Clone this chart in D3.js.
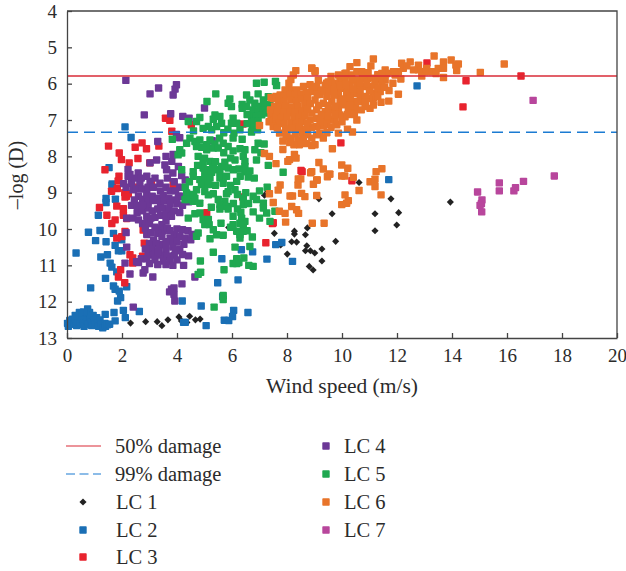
<!DOCTYPE html>
<html>
<head>
<meta charset="utf-8">
<style>
  html, body { margin: 0; padding: 0; background: #fff; }
  text { font-family: "Liberation Serif", serif; fill: #2b2b2b; }
</style>
<script src="https://cdn.jsdelivr.net/npm/d3@7"></script>
</head>
<body>
<div id="chart"></div>
<script>
// [wind speed, -log(D)]
const lc1 = [[7.18,9.07],[7.3,8.96],[9.16,9.17],[10.62,8.72],[9.64,9.58],[11.2,9.58],[11.78,9.17],[12.06,9.55],[11.99,9.89],[11.2,10.05],[13.94,9.26],[9.77,10.34],[8.74,9.97],[8.27,10.06],[8.27,10.14],[8.67,10.16],[7.54,10.12],[8.17,10.35],[8.35,10.36],[7.77,10.44],[8.72,10.46],[8.67,10.6],[8.85,10.6],[9.01,10.66],[9.27,10.55],[8.01,10.69],[9.27,10.88],[8.81,11.03],[8.95,11.13],[2.31,12.59],[2.86,12.55],[3.28,12.55],[3.45,12.66],[3.67,12.5],[4.07,12.42],[4.16,12.53],[4.36,12.57],[4.46,12.4],[4.67,12.5],[4.84,12.48],[5.88,9.96]]

const lc2 = [[0.02,12.6],[0.05,12.68],[0.1,12.52],[0.15,12.62],[0.2,12.48],[0.25,12.58],[0.3,12.5],[0.35,12.66],[0.4,12.42],[0.42,12.56],[0.48,12.62],[0.5,12.36],[0.55,12.48],[0.6,12.58],[0.62,12.68],[0.68,12.4],[0.72,12.52],[0.75,12.2],[0.78,12.62],[0.82,12.3],[0.85,12.44],[0.88,12.56],[0.9,12.66],[0.95,12.38],[1.0,12.5],[1.02,12.62],[1.08,12.44],[1.12,12.58],[1.15,12.68],[1.2,12.5],[1.25,12.62],[1.3,12.72],[1.38,12.6],[1.4,12.68],[1.39,12.35],[1.47,12.64],[1.55,12.62],[0.6,12.28],[0.45,12.3],[0.3,12.38],
  [1.64,8.8],[1.42,9.16],[1.42,9.27],[1.76,9.18],[1.14,9.62],[0.78,10.09],[1.2,10.04],[1.69,10.12],[1.04,10.32],[1.42,10.35],[1.75,10.45],[1.99,10.3],[1.87,10.6],[1.99,10.6],[0.33,10.66],[1.23,10.77],[1.47,10.71],[1.57,10.94],[1.63,11.05],[1.81,11.18],[1.4,11.36],[0.86,11.62],[1.69,11.57],[1.75,11.66],[1.9,11.71],[2.17,11.59],[1.95,11.89],[1.84,11.98],[2.05,12.24],[2.12,12.44],[2.63,12.27],[1.71,12.3],[1.75,12.53],[4.19,11.98],[4.88,12.12],[5.48,11.48],[5.63,10.82],[5.66,11.86],[6.22,11.4],[6.34,10.57],[6.75,10.63],[7.27,10.83],[7.59,10.43],[7.81,10.37],[8.2,10.89],[6.58,12.3],[6.06,12.24],[6.02,12.41],[5.72,12.51],[5.88,12.52],[5.06,12.66],[4.24,12.57],[4.3,12.57],[11.7,8.64],[12.73,6.06],[2.11,7.19],[2.33,7.48],[1.53,8.31],[1.64,8.76]]

const lc3 = [[3.58,6.95],[3.74,7.01],[3.81,7.31],[1.51,7.72],[2.48,7.75],[2.73,7.63],[2.89,7.79],[3.34,7.72],[1.9,7.91],[1.98,8.09],[2.26,8.18],[2.58,8.06],[1.38,8.37],[1.89,8.55],[1.86,8.68],[3.01,8.18],[1.83,8.89],[1.62,8.96],[2.1,9.0],[2.16,9.1],[2.53,8.85],[4.52,7.13],[6.4,7.11],[8.51,6.81],[8.51,8.39],[3.86,8.78],[3.07,8.73],[2.11,9.12],[2.23,9.03],[1.81,9.37],[2.05,9.44],[1.18,9.41],[1.45,9.62],[2.05,9.62],[1.75,9.75],[1.63,9.85],[2.17,9.71],[2.11,10.07],[1.81,10.25],[1.99,10.21],[2.77,10.03],[2.81,10.39],[2.29,10.71],[2.39,10.8],[2.39,10.94],[2.75,10.75],[1.95,11.12],[1.87,11.32],[2.1,11.48],[5.08,9.55],[6.39,9.12],[7.47,9.85],[7.23,10.38],[13.09,5.43],[14.51,5.92],[16.51,5.79],[14.4,6.64],[9.96,7.63],[10.36,8.67],[7.5,9.83],[8.55,8.42]]

const lc4 = [[2.14,5.91],[3.02,6.28],[3.33,6.12],[3.98,6.03],[3.93,6.15],[3.86,6.31],[2.81,6.86],[3.77,6.83],[4.21,6.9],[4.44,6.95],[5.0,6.67],[3.3,7.59],[3.98,7.4],[4.1,7.49],[5.28,7.57],[3.86,7.95],
  [3.02,8.18],[3.26,8.1],[3.56,8.24],[3.81,8.14],[3.6,8.0],[4.05,8.28],[3.85,8.46],[3.62,8.37],[4.17,8.53],[4.3,8.65],[2.59,8.46],[2.9,8.55],[3.2,8.6],[3.38,8.74],[3.02,8.69],[2.29,8.5],[2.35,8.74],[2.41,8.92],[2.15,8.85],[2.06,8.75],[2.65,8.72],[3.65,8.6],[3.9,8.7],[4.1,8.85],[3.4,8.95],[3.6,8.85],[3.75,8.95],[3.95,8.95],
  [2.6,9.1],[2.75,9.18],[2.9,9.05],[3.1,9.1],[3.3,9.15],[3.5,9.07],[3.7,9.15],[3.85,9.2],[4.05,9.1],[4.2,9.1],[4.42,9.25],[2.45,9.2],[2.95,9.25],[3.15,9.22],[3.4,9.28],[3.55,9.22],[3.75,9.3],[4.0,9.3],[4.2,9.35],
  [2.55,9.55],[2.75,9.5],[2.95,9.42],[3.1,9.5],[3.3,9.45],[3.5,9.42],[3.7,9.48],[3.9,9.5],[4.1,9.55],[3.2,9.68],[3.4,9.62],[3.6,9.6],[3.8,9.65],[2.17,9.7],[2.75,9.85],[3.0,9.85],[3.6,9.78],[3.45,9.88],
  [2.85,9.98],[3.35,10.0],[3.5,10.05],[3.65,9.98],[4.0,10.0],[4.2,10.02],[4.4,10.05],[4.55,10.15],[2.15,10.1],[3.3,10.12],[3.15,10.3],[3.45,10.2],[3.9,10.15],[4.1,10.2],[4.3,10.25],[4.5,10.3],[3.0,10.4],[3.25,10.4],[3.5,10.42],[3.8,10.32],[4.0,10.35],[4.25,10.42],
  [2.17,10.5],[3.1,10.55],[3.35,10.55],[3.6,10.6],[3.85,10.5],[4.1,10.55],[2.95,10.7],[3.15,10.72],[3.4,10.72],[3.65,10.75],[3.9,10.72],[4.42,10.74],[2.7,10.82],[2.9,10.82],[3.2,10.85],[3.5,10.88],[3.75,10.88],[4.0,10.85],[2.11,10.94],[2.6,10.92],[3.3,10.98],[3.6,10.98],[3.85,11.0],[4.24,11.0],[2.77,11.21],[2.83,11.12],[2.29,11.24],[3.12,11.32],[4.65,11.32],[4.18,11.51],[3.8,11.66],[3.89,11.62],[3.73,11.73],[3.89,11.8],[3.92,11.98],[2.41,12.15],
  [2.45,8.6],[2.7,8.6],[2.5,8.9],[2.75,8.9],[2.95,8.85],[3.15,8.85],[2.35,9.35],[2.55,9.35],[2.75,9.35],[2.4,9.7],[2.6,9.75],[2.9,9.65],[3.05,9.7],[2.9,10.15],[3.05,10.1],[2.85,10.55],[3.2,9.95],[3.75,10.05],[3.75,10.25],[3.6,10.35],[3.3,10.62],[3.6,10.45],[3.95,10.6],[4.2,10.7],[3.0,10.95],[2.22,8.36],[2.22,8.55],[2.53,10.9]]

const lc5 = [[6.89,5.99],[7.17,5.96],[7.58,5.94],[7.62,6.05],[5.41,6.28],[5.09,6.49],[5.92,6.42],[5.86,6.54],[5.98,6.63],[6.53,6.31],[6.95,6.28],[7.14,6.45],[7.32,6.36],[6.65,6.45],[6.37,6.57],[6.37,6.68],[6.53,6.63],[6.83,6.54],[7.01,6.63],[7.2,6.58],[7.38,6.58],[6.77,6.72],[6.95,6.77],[7.14,6.72],[6.71,6.9],[6.89,6.9],[7.08,6.86],[7.26,6.81],[6.74,7.04],[6.95,7.04],[6.74,7.18],[6.93,7.27],[6.71,7.33],
  [4.83,6.93],[4.71,7.04],[4.41,7.04],[5.38,6.86],[5.56,6.9],[5.32,6.98],[5.62,7.09],[5.44,7.18],[5.14,7.18],[4.95,7.23],[5.26,7.27],[6.04,6.95],[6.17,7.09],[5.98,7.09],[6.29,7.27],[6.07,7.36],[6.04,7.5],[6.37,7.53],[3.83,7.53],
  [4.47,7.5],[4.65,7.59],[4.83,7.55],[4.71,7.73],[4.35,7.64],[5.08,7.68],[5.38,7.66],[5.68,7.64],[5.86,7.73],[5.08,7.82],[5.32,7.77],[5.5,7.77],[6.04,7.85],[6.29,7.79],[6.47,7.82],[6.95,7.64],[7.17,7.66],[6.83,7.82],[4.1,7.82],[4.04,7.96],[4.17,7.91],
  [4.77,8.0],[5.0,8.05],[5.2,8.14],[4.95,8.14],[5.32,8.19],[4.95,8.32],[5.14,8.37],[5.5,8.37],[5.74,8.16],[5.62,8.28],[5.86,8.32],[6.11,8.1],[6.41,8.0],[6.47,8.14],[6.47,8.28],[6.53,8.42],[6.89,8.1],[6.05,8.37],[7.32,8.25],[7.86,8.44],[4.17,8.37],[4.59,8.42],
  [5.01,8.46],[5.26,8.44],[5.56,8.42],[4.59,8.55],[4.83,8.64],[5.01,8.64],[5.2,8.6],[5.56,8.6],[5.8,8.55],[6.17,8.69],[6.47,8.42],[6.59,8.57],[6.81,8.6],[4.89,8.78],[5.14,8.78],[5.68,8.74],[5.01,8.97],[5.32,9.03],[5.14,9.06],[5.86,8.97],[6.11,8.92],[5.8,9.03],[7.28,8.85],[4.35,9.01],[4.71,8.92],[4.47,9.1],[4.29,9.19],[4.59,9.24],[4.65,9.15],[4.83,9.29],[4.41,9.19],[6.41,9.15],[6.77,9.1],[6.89,9.19],[7.14,9.29],[7.14,9.42],[7.26,9.56],[7.56,9.51],[5.5,9.19],[5.74,9.24],[5.56,9.33],[5.8,9.38],[5.56,9.45],[5.86,9.45],[6.41,9.33],[6.77,9.53],[6.32,9.54],[4.65,9.58],[4.83,9.56],[4.41,9.7],[4.95,9.74],[5.14,9.74],[5.01,9.88],[5.17,9.88],[5.6,9.84],[6.04,9.65],[6.35,9.7],[6.47,9.79],[6.29,9.84],[6.04,9.88],[6.41,9.88],[7.38,9.79],[5.32,10.02],[5.44,10.16],[5.68,10.17],[6.17,10.06],[6.29,10.16],[6.41,10.06],[6.29,10.25],[5.2,10.27],[4.71,10.2],[4.77,10.11],[6.74,10.22],[6.11,10.5],[6.65,10.48],[5.32,10.64],[6.43,10.8],[6.17,10.82],[6.04,10.95],[6.17,10.95],[6.25,10.92],[6.61,11.0],[6.77,11.03],[4.85,10.88],[4.86,11.19],[4.77,11.25],[5.71,11.12],[5.68,11.83],[5.68,11.94],[5.35,12.15],
  [5.7,7.35],[5.55,7.5],[5.85,7.25],[6.55,7.1],[6.55,6.85],[5.2,7.55],[4.6,7.3],[4.9,7.75],[5.7,7.9],[5.95,8.05],[6.25,8.35],[6.3,8.55],[5.4,8.8],[5.3,8.3],[5.4,8.15],[4.75,8.25],[4.45,8.7],[4.3,8.85],[5.95,8.8],[6.2,9.05],[6.5,9.0],[6.05,9.3],[6.2,9.45],[6.6,9.3],[5.95,9.95],[6.55,10.05],[7.0,9.7],[7.0,8.95],[4.6,9.05],[5.25,9.4],[7.05,7.9],[6.65,8.4]]

const lc6 = [[8.32,5.64],[8.23,5.76],[8.14,5.89],[8.07,5.99],[8.9,5.57],[9.02,5.64],[9.14,5.91],[10.29,5.53],[10.54,5.42],[10.15,5.71],[9.93,5.94],[10.35,5.76],
  [11.14,5.32],[11.05,5.51],[13.35,5.24],[12.48,5.4],[12.17,5.44],[12.78,5.49],[13.08,5.58],[13.69,5.4],[13.97,5.35],[14.23,5.46],[14.14,5.49],[14.17,5.64],[13.69,5.58],[13.5,5.58],[13.26,5.67],[13.02,5.67],[12.78,5.62],[12.6,5.62],[12.23,5.58],[12.05,5.67],[11.87,5.67],[11.57,5.62],[11.63,5.72],[11.93,5.76],[12.36,5.51],[12.9,5.79],[13.42,5.72],[13.69,5.83],[15.03,5.69],[15.9,5.46],[12.14,5.87],[11.85,5.99],[11.71,6.19],[12.05,6.29],[11.7,6.48],[11.42,6.51],[11.14,6.59],[11.02,6.68],[10.84,6.63],[10.48,6.68],[10.23,6.72],[10.11,6.91],[10.54,7.0],[10.2,7.25],[10.38,7.33],[9.87,7.36],[9.65,7.79],[9.45,7.35],[9.32,7.5],[9.02,7.68],[8.9,7.7],
  [10.72,5.67],[10.54,5.67],[10.11,5.72],[9.87,5.76],[9.02,5.67],[8.9,5.58],[11.57,5.9],[11.39,5.9],[11.2,5.85],[10.96,5.85],[10.78,5.85],[10.54,5.9],[10.36,5.9],[10.11,5.9],[9.75,5.99],
  [11.45,6.04],[11.2,6.04],[11.02,6.08],[10.78,6.08],[10.54,6.08],[10.29,6.08],[10.05,6.13],[9.81,6.13],[9.57,6.04],[9.39,6.04],[11.39,6.22],[11.14,6.27],[10.66,6.22],[10.42,6.27],[10.17,6.27],[9.87,6.31],[9.57,6.22],[9.32,6.17],[9.08,6.17],[8.9,6.22],[11.14,6.4],[10.96,6.4],[10.66,6.36],[10.42,6.49],[10.23,6.45],[9.93,6.49],[9.63,6.49],[9.32,6.54],[9.02,6.45],[10.48,6.63],[9.87,6.68],[9.63,6.72],[9.39,6.77],[9.08,6.72],[8.9,6.81],[9.93,6.86],[9.75,7.0],[9.57,7.0],[9.32,7.0],[9.08,6.95],[8.84,7.0],[9.81,7.13],[9.32,7.16],[9.08,7.18],[8.9,7.2],[9.2,7.36],[9.08,7.41],[8.9,7.5],
  [8.11,6.17],[7.93,6.17],[7.75,6.31],[7.5,6.4],[8.35,6.17],[8.6,6.08],[8.84,6.03],[9.08,6.08],[9.44,5.99],[9.63,5.99],[7.42,6.38],[7.6,6.35],[7.42,6.9],[7.55,7.0],[7.0,7.15],[7.73,7.36],[7.97,7.45],
  [7.9,6.35],[8.1,6.3],[8.3,6.32],[8.5,6.28],[8.7,6.25],[7.7,6.48],[7.9,6.5],[8.15,6.45],[8.35,6.48],[8.55,6.42],[8.75,6.4],[7.55,6.62],[7.75,6.65],[7.95,6.62],[8.2,6.65],[8.4,6.62],[8.65,6.58],[8.85,6.55],[7.4,6.72],[7.65,6.8],[7.9,6.78],[8.1,6.8],[8.3,6.78],[8.55,6.75],[8.75,6.7],[7.6,6.92],[7.8,6.95],[8.0,6.92],[8.25,6.95],[8.45,6.92],[8.65,6.88],[7.35,7.05],[7.7,7.08],[7.9,7.1],[8.15,7.08],[8.35,7.1],[8.55,7.05],[8.75,7.08],[7.5,7.18],[7.65,7.22],[7.95,7.25],[8.2,7.22],[8.45,7.2],[8.7,7.25],[8.0,7.35],[8.3,7.38],[8.55,7.36],[8.75,7.4],[8.15,7.5],[8.4,7.55],[8.6,7.52],[8.45,7.68],[8.7,7.65],[8.25,7.68],[8.1,7.62],[7.85,7.58],
  [7.85,7.81],[7.18,7.92],[7.36,8.0],[7.6,8.2],[8.09,8.09],[8.27,7.95],[8.33,8.05],[8.03,8.14],
  [8.41,8.62],[8.5,8.62],[8.4,8.79],[8.96,8.77],[9.1,8.65],[8.86,8.45],[9.47,8.56],[9.56,8.49],[9.99,8.54],[10.1,8.54],[10.41,8.58],[11.02,8.7],[11.2,8.63],[11.2,8.83],[10.62,8.94],[11.42,9.06],[7.75,8.79],[7.68,8.93],[8.11,9.09],[8.2,9.09],[8.53,9.02],[8.65,9.11],[9.08,9.08],[10.11,9.06],[10.23,9.22],[9.99,9.33],[10.17,9.29],[7.36,9.03],[7.5,9.27],[7.72,9.51],[7.93,9.57],[8.17,9.38],[8.35,9.47],[8.42,9.57],[7.95,9.81],[8.92,9.84],[9.35,9.84],[9.99,8.24],[10.21,8.33],[9.16,8.17],[9.32,8.35],[9.54,8.49],[11.45,8.34],[11.24,8.42],[8.9,8.42],[9.08,8.65],
  [9.2,6.3],[9.45,6.35],[9.7,6.3],[10.0,6.42],[10.3,6.4],[10.6,6.5],[10.85,6.35],[11.3,6.35],[9.15,6.6],[9.5,6.6],[9.75,6.62],[10.05,6.58],[10.3,6.6],[10.7,6.72],[9.25,6.85],[9.5,6.88],[9.75,6.85],[10.2,6.85],[10.45,6.85],[9.45,7.12],[9.6,7.2],[10.0,7.05],[9.2,7.05],[9.25,6.2],[9.7,6.1],[9.95,6.05],[10.15,6.02],[10.4,6.15],[10.65,5.98],[10.9,6.0],[11.0,6.2],[11.3,6.12],[11.55,6.1],[10.85,6.5],[9.1,6.3],[10.75,5.75],[10.95,5.7],[11.3,5.75],[11.45,5.72],[9.5,5.95],[9.6,5.8]]

const lc7 = [[16.95,6.46],[14.93,8.98],[15.72,8.73],[15.72,8.95],[16.6,8.69],[16.31,8.86],[16.25,8.95],[17.72,8.54],[15.09,9.2],[15.07,9.3],[15.02,9.35],[15.08,9.53]]

const damage50 = 5.79
const damage99 = 7.34
const xTicks = [0, 2, 4, 6, 8, 10, 12, 14, 16, 18, 20]
const yTicks = [4, 5, 6, 7, 8, 9, 10, 11, 12, 13]

const series = [
  { name: "LC 1", points: lc1, color: "#222222", diamond: true },
  { name: "LC 2", points: lc2, color: "#1a6fb5" },
  { name: "LC 3", points: lc3, color: "#e8232e" },
  { name: "LC 4", points: lc4, color: "#6c3896" },
  { name: "LC 5", points: lc5, color: "#1fa850" },
  { name: "LC 6", points: lc6, color: "#e8742a" },
  { name: "LC 7", points: lc7, color: "#b8469c" },
]

const width = 626
const height = 571
const margin = { top: 11, right: 9, bottom: 233, left: 67 }
const lineRed = "#d92b37"
const lineBlue = "#1b7bd2"
const axisColor = "#444"

const svg = d3
  .select("#chart")
  .append("svg")
  .attr("width", width)
  .attr("height", height)
  .style("display", "block")

const x = d3.scaleLinear().domain([0, 20]).range([margin.left, width - margin.right])
const y = d3.scaleLinear().domain([4, 13]).range([margin.top, height - margin.bottom])

// Markers
function drawMark(sel, d, px, py, size) {
  if (d.diamond) {
    const s = size * 0.68
    sel
      .append("rect")
      .attr("x", px - s / 2)
      .attr("y", py - s / 2)
      .attr("width", s)
      .attr("height", s)
      .attr("fill", d.color)
      .attr("transform", `rotate(45,${px},${py})`)
  } else {
    sel
      .append("rect")
      .attr("x", px - size / 2)
      .attr("y", py - size / 2)
      .attr("width", size)
      .attr("height", size)
      .attr("rx", 0.8)
      .attr("fill", d.color)
  }
}

series.forEach((s) => {
  const g = svg.append("g").attr("class", "series")
  s.points.forEach((p) => drawMark(g, s, x(p[0]), y(p[1]), 7.4))
})

// Damage lines
svg
  .append("line")
  .attr("x1", x(0))
  .attr("x2", x(20))
  .attr("y1", y(damage50))
  .attr("y2", y(damage50))
  .attr("stroke", lineRed)
  .attr("stroke-width", 1.5)

svg
  .append("line")
  .attr("x1", x(0))
  .attr("x2", x(20))
  .attr("y1", y(damage99))
  .attr("y2", y(damage99))
  .attr("stroke", lineBlue)
  .attr("stroke-width", 1.5)
  .attr("stroke-dasharray", "11,6")

// Axes, ticks point inward
const xAxis = svg
  .append("g")
  .attr("transform", `translate(0,${y(13)})`)
  .call(d3.axisBottom(x).tickValues(xTicks).tickSizeInner(-5).tickSizeOuter(0).tickPadding(10.5))
const yAxis = svg
  .append("g")
  .attr("transform", `translate(${x(0)},0)`)
  .call(d3.axisLeft(y).tickValues(yTicks).tickSizeInner(-5).tickSizeOuter(0).tickPadding(10))

;[xAxis, yAxis].forEach((a) => {
  a.selectAll("path, line").attr("stroke", axisColor).attr("stroke-width", 1.3)
  a.selectAll("text").style("font-size", "19px").style("font-family", '"Liberation Serif", serif').attr("fill", "#2b2b2b")
})

// Frame on the top and right
svg
  .append("path")
  .attr("d", `M${x(0)},${y(4)}H${x(20)}V${y(13)}`)
  .attr("fill", "none")
  .attr("stroke", axisColor)
  .attr("stroke-width", 1.3)

svg
  .append("text")
  .attr("x", 342)
  .attr("y", 393)
  .attr("text-anchor", "middle")
  .style("font-size", "21.5px")
  .text("Wind speed (m/s)")

svg
  .append("text")
  .attr("transform", "translate(23,175) rotate(-90)")
  .attr("text-anchor", "middle")
  .style("font-size", "20px")
  .text("\u2013log (D)")

// Legend
const legendFont = "20.5px"
const legendLines = [
  { name: "50% damage", color: lineRed, y: 446 },
  { name: "99% damage", color: lineBlue, dash: "9,4.5", y: 474 },
]
legendLines.forEach((d) => {
  svg
    .append("line")
    .attr("x1", 66)
    .attr("x2", 101)
    .attr("y1", d.y)
    .attr("y2", d.y)
    .attr("stroke", d.color)
    .attr("stroke-width", 1.2)
    .attr("stroke-dasharray", d.dash || null)
  svg
    .append("text")
    .attr("x", 115)
    .attr("y", d.y + 7)
    .style("font-size", legendFont)
    .text(d.name)
})

const legendSlots = [
  { mx: 83, tx: 116, y: 502 },
  { mx: 83, tx: 116, y: 530 },
  { mx: 83, tx: 116, y: 557 },
  { mx: 326, tx: 344, y: 446 },
  { mx: 326, tx: 344, y: 474 },
  { mx: 326, tx: 344, y: 502 },
  { mx: 326, tx: 344, y: 530 },
]
series.forEach((s, i) => {
  const slot = legendSlots[i]
  drawMark(svg, s, slot.mx, slot.y, 7.4)
  svg
    .append("text")
    .attr("x", slot.tx)
    .attr("y", slot.y + 7)
    .style("font-size", legendFont)
    .text(s.name)
})
</script>
</body>
</html>
